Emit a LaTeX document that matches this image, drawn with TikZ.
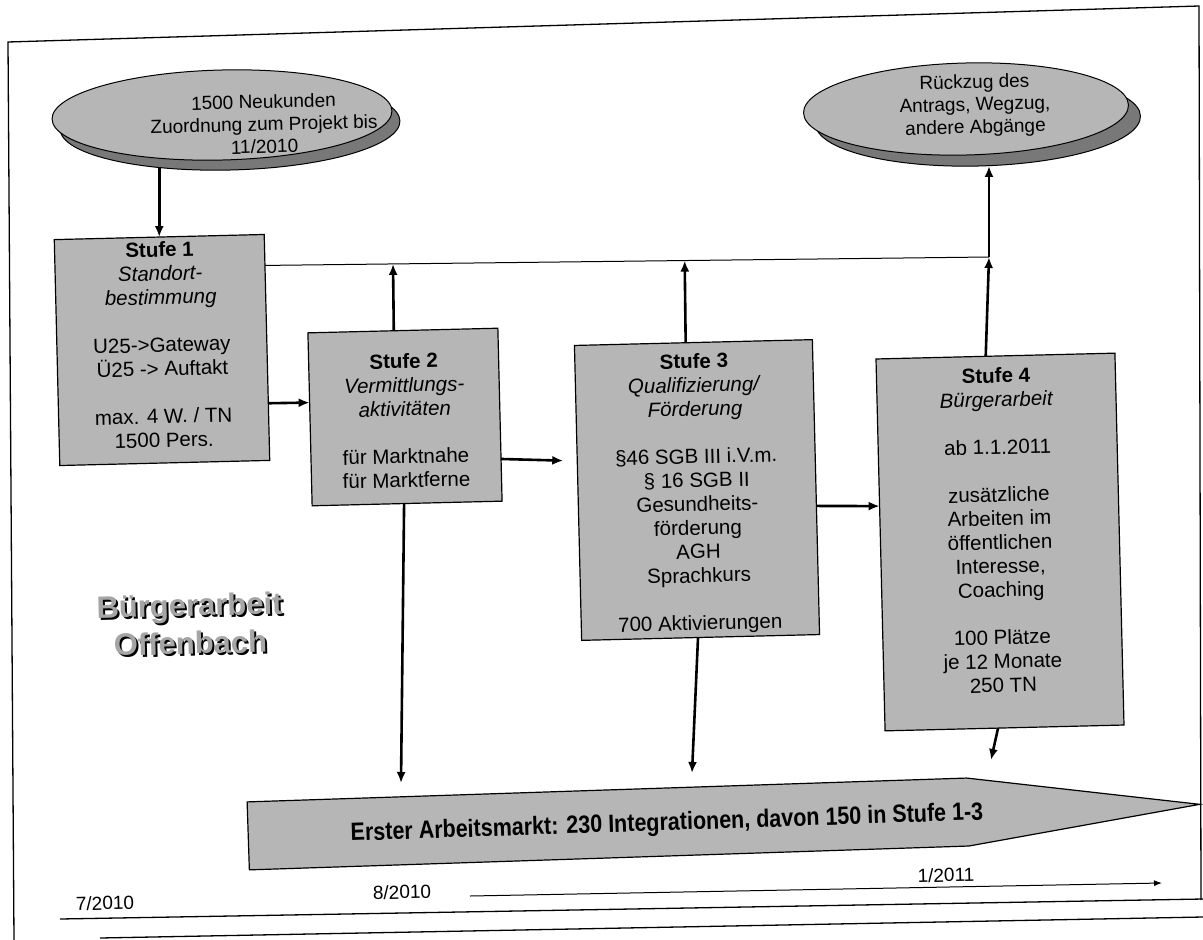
\documentclass[tikz,border=0pt]{standalone}
\usepackage{fontspec}
\usepackage{graphicx}
\setmainfont{Liberation Sans}
\usetikzlibrary{arrows.meta,shapes.geometric,calc}
\definecolor{boxgray}{RGB}{182,182,182}
\definecolor{shadowgray}{RGB}{120,120,120}
\definecolor{titlegray}{RGB}{165,165,165}
\begin{document}
\begin{tikzpicture}[x=1pt,y=-1pt,
  every node/.style={inner sep=0pt, outer sep=0pt},
  stufebox/.style={draw=black, line width=1.2pt, fill=boxgray, rotate=1.4},
  stufetext/.style={anchor=north, align=center, rotate=1.4, font=\fontsize{20.5}{23.8}\selectfont},
  ell/.style={ellipse, draw=black, line width=1pt, fill=boxgray, rotate=1.4},
  ellshadow/.style={ellipse, draw=black, line width=1pt, fill=shadowgray, rotate=1.4},
  elltext/.style={align=center, rotate=1.4, font=\fontsize{19}{22.5}\selectfont},
  arr/.style={line width=2.6pt, -{Latex[length=11pt,width=9pt]}},
  thinline/.style={line width=1pt},
  frameline/.style={line width=1.3pt},
  datelabel/.style={font=\fontsize{19}{22}\selectfont, rotate=1.4},
  titletext/.style={font=\bfseries\fontsize{31}{38}\selectfont, align=center, rotate=1.4},
]
\useasboundingbox (0,0) rectangle (1203,940);
\fill[white] (0,0) rectangle (1203,940);

% frame and base lines
\draw[frameline] (14,940) -- (8,42) -- (1199,6) -- (1201,900);
\draw[frameline] (60,919) -- (1203,899);
\draw[frameline] (100,938) -- (1203,917);

% boxes
\node[stufebox, minimum width=210pt, minimum height=226pt] (b1) at (162,350) {};
\node[stufebox, minimum width=190pt, minimum height=173pt] (b2) at (405,417) {};
\node[stufebox, minimum width=238pt, minimum height=295pt] (b3) at (697,490) {};
\node[stufebox, minimum width=239pt, minimum height=372pt] (b4) at (1000,542) {};

\node[stufetext] (t1) at ($(b1.north)!5pt!(b1.south)$) {\textbf{Stufe 1}\\ \textit{Standort-}\\ \textit{bestimmung}\\[23.8pt] U25->Gateway\\ Ü25 -> Auftakt\\[23.8pt] max. 4 W. / TN\\ 1500 Pers.};
\node[stufetext] (t2) at ($(b2.north)!23pt!(b2.south)$) {\textbf{Stufe 2}\\ \textit{Vermittlungs-}\\ \textit{aktivitäten}\\[23.8pt] für Marktnahe\\ für Marktferne};
\node[stufetext] (t3) at ($(b3.north)!11pt!(b3.south)$) {\textbf{Stufe 3}\\ \textit{Qualifizierung/}\\ \textit{Förderung}\\[23.8pt] §46 SGB III i.V.m.\\ § 16 SGB II\\ Gesundheits-\\ förderung\\ AGH\\ Sprachkurs\\[23.8pt] 700 Aktivierungen};
\node[stufetext] (t4) at ($(b4.north)!12pt!(b4.south)$) {\textbf{Stufe 4}\\ \textit{Bürgerarbeit}\\[23.8pt] ab 1.1.2011\\[23.8pt] zusätzliche\\ Arbeiten im\\ öffentlichen\\ Interesse,\\ Coaching\\[23.8pt] 100 Plätze\\ je 12 Monate\\ 250 TN};

% connectors
\coordinate (j) at (989,257);
\coordinate (d2) at (401,783);
\coordinate (d3) at (692,773);
\coordinate (d4) at (991,760);

\draw[arr] (b1.north |- 0,120) -- (b1.north);
\draw[thinline] (b1.38) -- (j);
\draw[arr] (b1.-28.3) -- (b2.170.3);
\draw[arr, shorten >=14pt] (b2.-25.3) -- (b3.165.4);
\draw[arr] (b3.-9.5) -- (b4.162.8);
\draw[arr] (b2.96.6) -- ($(b1.38)!(b2.96.6)!(j)$);
\draw[arr] (b3.93.5) -- ($(b1.38)!(b3.93.5)!(j)$);
\draw[arr] (b4.93.4) -- (j);
\draw[arr] (b2.-92.6) -- (d2);
\draw[arr] (b3.-91.9) -- (d3);
\draw[arr] (b4.-92.8) -- (d4);

% ellipses
\node[ellshadow, minimum width=340pt, minimum height=90pt] (e1s) at (230,125) {};
\node[ell, minimum width=340pt, minimum height=90pt] (e1) at (222,115) {};
\node[elltext] (e1t) at (264,124) {1500 Neukunden\\ Zuordnung zum Projekt bis\\ 11/2010};
\node[ellshadow, minimum width=325pt, minimum height=92pt] (e2s) at (978,120) {};
\node[ell, minimum width=325pt, minimum height=92pt] (e2) at (966,109) {};
\node[elltext] (e2t) at (975,106) {Rückzug des\\ Antrags, Wegzug,\\ andere Abgänge};
\draw[arr] (j) -- (j |- e2s.south);

% big arrow
\begin{scope}[shift={(667,822)}, rotate=1.9]
\filldraw[fill=boxgray, draw=black, line width=1.2pt] (-419,-34) -- (301,-34) -- (533,0) -- (301,34) -- (-419,34) -- cycle;
\end{scope}
\node[rotate=1.9, font=\bfseries\fontsize{25}{28}\selectfont] (ba) at (667,824) {\scalebox{0.86}[1]{Erster Arbeitsmarkt: 230 Integrationen, davon 150 in Stufe 1-3}};

% title
\node[titletext, text=black] (tts) at (192,626) {Bürgerarbeit\\ Offenbach};
\node[titletext, text=titlegray] (tt) at (190,624) {Bürgerarbeit\\ Offenbach};

% timeline
\node[datelabel] (l7) at (105,903) {7/2010};
\node[datelabel] (l8) at (402,892) {8/2010};
\node[datelabel] (l11) at (946,875) {1/2011};
\coordinate (ts) at (470,896);
\coordinate (te) at (1162,883);
\draw[thinline, -{Latex[length=8pt,width=6pt]}] (ts) -- (te);
\end{tikzpicture}
\end{document}
